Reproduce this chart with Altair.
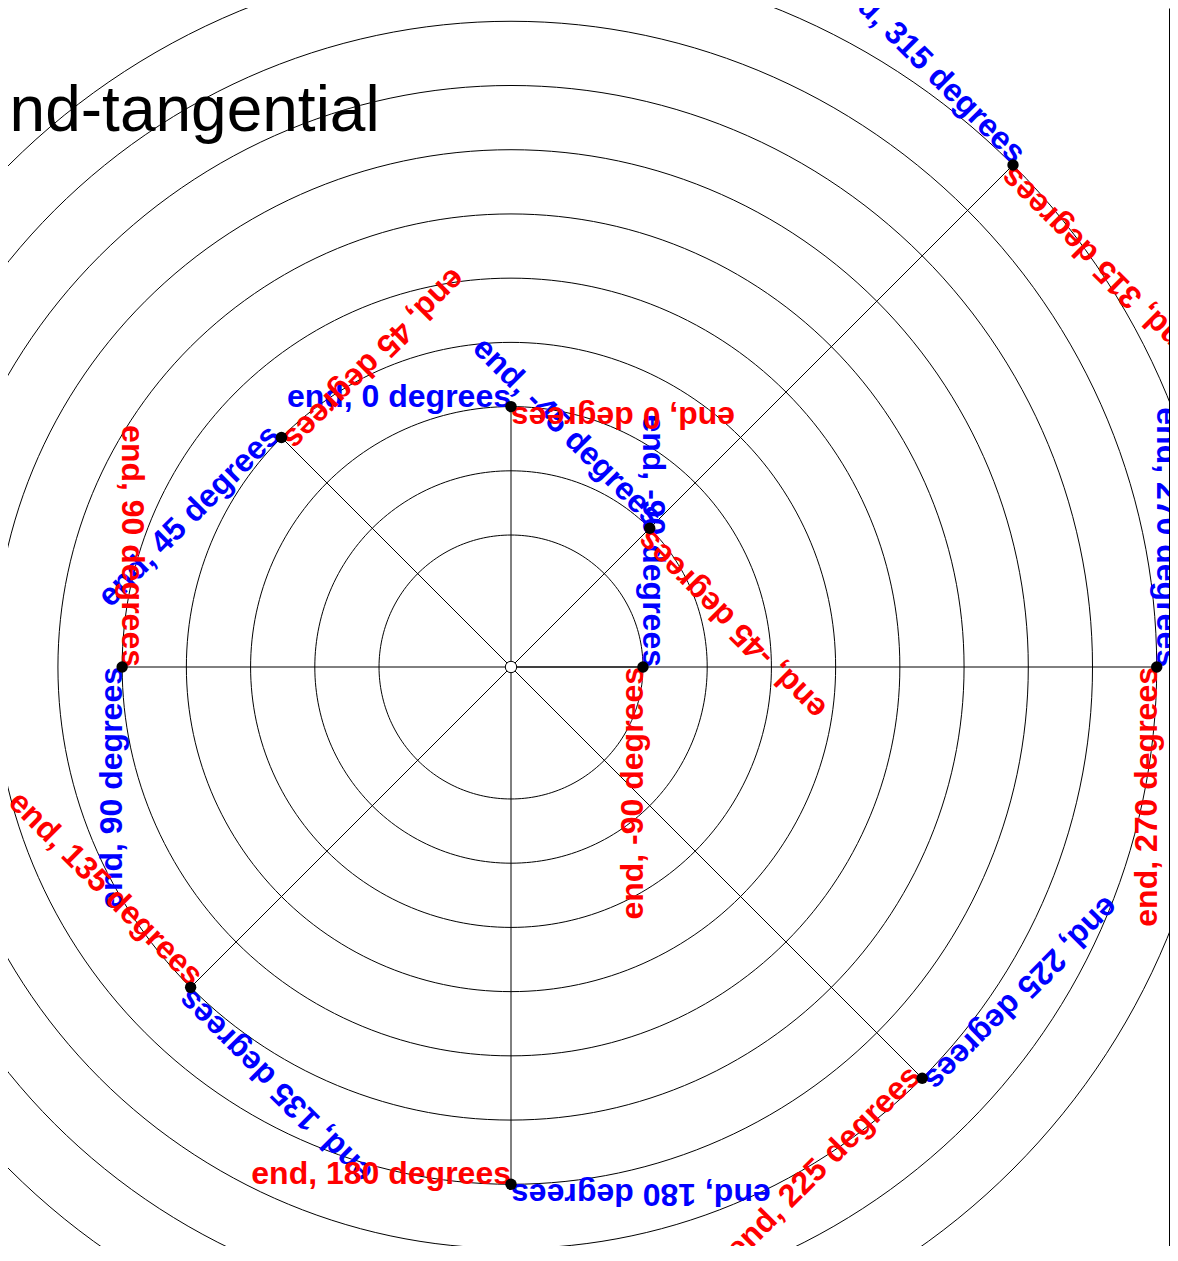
import altair as alt
import numpy as np
import pandas as pd

# ---- data ----
radii = [2, 3, 4, 5, 6, 7, 8, 9, 10, 11]
angles_deg = [0, 45, 90, 135, 180, 225, 270, 315, 360, 405]
labels = [
    "end, -90 degrees", "end, -45 degrees", "end, 0 degrees", "end, 45 degrees",
    "end, 90 degrees", "end, 135 degrees", "end, 180 degrees", "end, 225 degrees",
    "end, 270 degrees", "end, 315 degrees",
]
blue_rotation = [90, 45, 0, 315, 270, 225, 180, 135, 90, 45]
red_rotation = [270, 225, 180, 135, 90, 45, 0, 315, 270, 225]
ring_values = [2, 3, 4, 5, 6, 7, 8, 9, 10, 11]
hole = 0.055

# ---- layout ----
W, H = 1161, 1238
PX = 64.22          # pixels per radial unit
CX, CY = 503, 659   # centre inside plot area
x_dom = [-CX / PX, (W - CX) / PX]
y_dom = [-(H - CY) / PX, CY / PX]
xs = alt.Scale(domain=x_dom, nice=False, zero=False)
ys = alt.Scale(domain=y_dom, nice=False, zero=False)
yaxis = alt.Axis(orient="right", labels=False, ticks=False, grid=False, title=None,
                 domain=True, domainColor="black", domainWidth=1)

# points
th = np.radians(angles_deg)
rr = np.array(radii) + hole
pts = pd.DataFrame({"x": rr * np.cos(th), "y": rr * np.sin(th), "label": labels,
                    "x0": 0.0, "y0": 0.0})

txt = pd.concat([
    pts.assign(rot=blue_rotation, color="blue"),
    pts.assign(rot=red_rotation, color="red"),
], ignore_index=True)

# rings
rows = []
for v in ring_values:
    for t in np.linspace(0, 360, 241):
        a = np.radians(t)
        rows.append({"ring": v, "t": t, "x": (v + hole) * np.cos(a), "y": (v + hole) * np.sin(a)})
rings = pd.DataFrame(rows)
origin = pd.DataFrame({"x": [0.0], "y": [0.0]})


def X(f):
    return alt.X(f, scale=xs, axis=None)


def Y(f):
    return alt.Y(f, scale=ys, axis=yaxis)


ring_layer = alt.Chart(rings).mark_line(color="black", strokeWidth=1, clip=True).encode(
    x=X("x:Q"), y=Y("y:Q"), detail="ring:N", order="t:Q"
)
stem_layer = alt.Chart(pts).mark_rule(color="black", strokeWidth=1, clip=True).encode(
    x=X("x0:Q"), y=Y("y0:Q"), x2="x:Q", y2="y:Q"
)
origin_layer = alt.Chart(origin).mark_point(
    filled=True, fill="white", stroke="black", strokeWidth=1, size=130, opacity=1, clip=True
).encode(x=X("x:Q"), y=Y("y:Q"))


def text_layer(color):
    return alt.Chart(txt[txt.color == color]).mark_text(
        align="right", baseline="alphabetic", font="Liberation Sans", fontWeight="bold",
        fontSize=32, clip=True
    ).encode(
        x=X("x:Q"), y=Y("y:Q"), text="label:N",
        angle=alt.Angle("rot:Q", scale=None),
        color=alt.Color("color:N", scale=None),
    )


dot_layer = alt.Chart(pts).mark_point(
    filled=True, color="black", size=130, opacity=1, clip=True
).encode(x=X("x:Q"), y=Y("y:Q"))

chart = alt.layer(
    ring_layer, stem_layer, origin_layer, text_layer("blue"), text_layer("red"), dot_layer
).properties(
    width=W, height=H,
    padding={"left": 0, "top": 0, "right": 1, "bottom": 0},
    autosize=alt.AutoSizeParams(type="none"),
    title=alt.Title(
        text="end-tangential", anchor="start", frame="group", orient="top", offset=0,
        dx=-34, dy=187, baseline="alphabetic", fontSize=64, font="Liberation Sans",
        fontWeight="normal", color="black",
    ),
).configure_view(stroke=None)

chart.save("out.html", embed_options={"renderer": "svg", "actions": False})
